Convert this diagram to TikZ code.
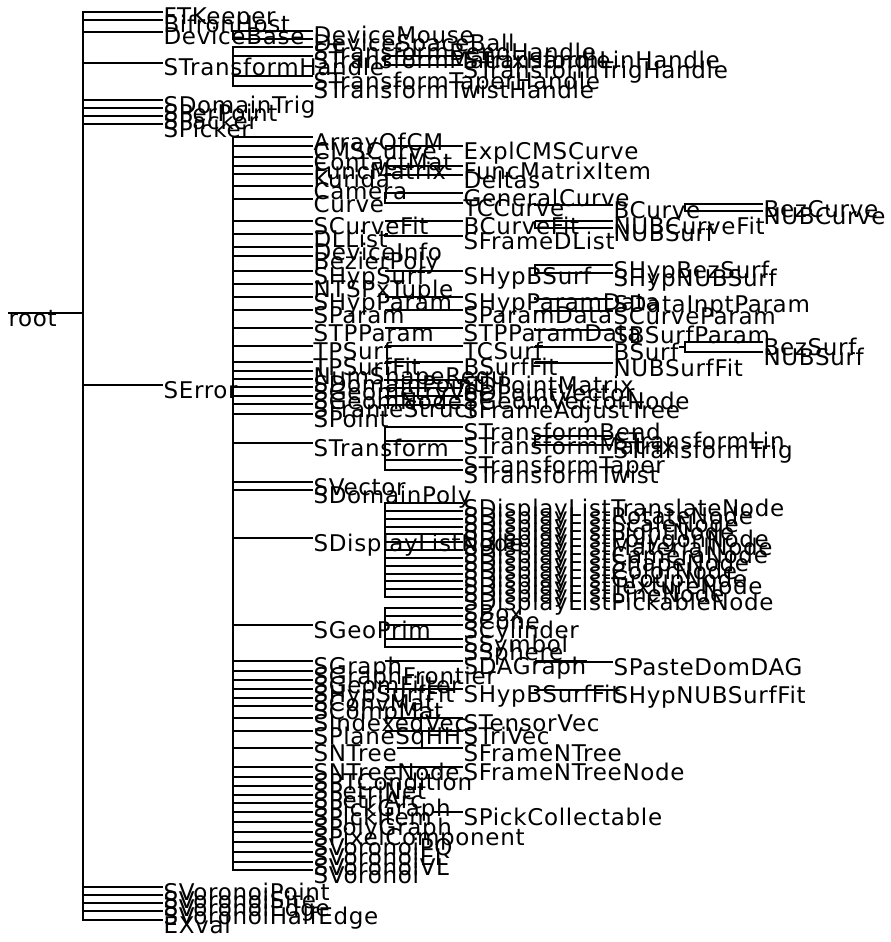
\documentclass[tikz,border=0pt]{standalone}
\usepackage{fontspec}
\newfontfamily\clsfont[LetterSpace=3]{DejaVu Sans}
\begin{document}
\begin{tikzpicture}[x=1pt, y=-1pt, line width=1.1pt,
  cls/.style={inner sep=0pt, anchor=west, text height=26pt, text depth=0pt,
              font=\clsfont\fontsize{23}{23}\selectfont}]
\useasboundingbox (0,0) rectangle (891,942);

    % root
    \node[cls] (root) at (8, 313) {root};
    \coordinate (rootbus) at (83, 313);
    \draw (root.west) -- (rootbus);

    % level 1
    \node[cls] (ftk) at (163, 12) {FTKeeper};
    \node[cls] (bhost) at (163, 20) {BifronHost};
    \node[cls] (devb) at (163, 32) {DeviceBase};
    \node[cls] (xhand) at (163, 63) {STransformHandle};
    \node[cls] (dtrig) at (163, 100) {SDomainTrig};
    \node[cls] (ppt) at (163, 108) {SPerPoint};
    \node[cls] (pck) at (163, 116) {SPacker};
    \node[cls] (pkr) at (163, 124) {SPicker};
    \node[cls] (err) at (163, 385) {SError};
    \node[cls] (vpt) at (163, 887) {SVoronoiPoint};
    \node[cls] (vsite) at (163, 895) {SVoronoiSite};
    \node[cls] (vedge) at (163, 903) {SVoronoiEdge};
    \node[cls] (vhalf) at (163, 911) {SVoronoiHalfEdge};
    \node[cls] (exval) at (163, 920) {EXval};
    \draw (ftk.west) -| (rootbus) (bhost.west) -| (rootbus) (devb.west) -| (rootbus)
          (xhand.west) -| (rootbus) (dtrig.west) -| (rootbus) (ppt.west) -| (rootbus)
          (pck.west) -| (rootbus) (pkr.west) -| (rootbus) (err.west) -| (rootbus)
          (vpt.west) -| (rootbus) (vsite.west) -| (rootbus) (vedge.west) -| (rootbus)
          (vhalf.west) -| (rootbus) (exval.west) -| (rootbus);

    % devices
    \coordinate (devbbus) at (233, 32);
    \node[cls] (dmouse) at (313, 31) {DeviceMouse};
    \node[cls] (dball) at (313, 39) {DeviceSpaceBall};
    \draw (dmouse.west) -| (devbbus) (dball.west) -| (devbbus);

    % handles
    \coordinate (xhandbus) at (233, 63);
    \node[cls] (hbend) at (313, 47) {STransformBendHandle};
    \node[cls] (hmat) at (313, 56) {STransformMatrixHandle};
    \node[cls] (htaper) at (313, 76) {STransformTaperHandle};
    \node[cls] (htwist) at (313, 86) {STransformTwistHandle};
    \draw (hbend.west) -| (xhandbus) (hmat.west) -| (xhandbus)
          (htaper.west) -| (xhandbus) (htwist.west) -| (xhandbus);
    \coordinate (hmatbus) at (385, 56);
    \node[cls] (hlin) at (463, 56) {STransformLinHandle};
    \node[cls] (htrig) at (463, 65) {STransformTrigHandle};
    \draw (hlin.west) -| (hmatbus) (htrig.west) -| (hmatbus);

    % SError, upper part
    \coordinate (errbus) at (233, 385);
    \node[cls] (aocm) at (313, 137) {ArrayOfCM};
    \node[cls] (cmsc) at (313, 146) {CMSCurve};
    \node[cls] (cmat) at (313, 157) {ContactMat};
    \node[cls] (fmat) at (313, 166) {FuncMatrix};
    \node[cls] (kur) at (313, 174) {Kurida};
    \node[cls] (cam) at (313, 186) {Camera};
    \node[cls] (curve) at (313, 199) {Curve};
    \node[cls] (cfit) at (313, 221) {SCurveFit};
    \node[cls] (dll) at (313, 234) {DLList};
    \node[cls] (dinfo) at (313, 247) {DeviceInfo};
    \node[cls] (bpoly) at (313, 256) {BezierPoly};
    \node[cls] (hsurf) at (313, 271) {SHypSurf};
    \node[cls] (tuple) at (313, 284) {NTSPxTuple};
    \node[cls] (hpar) at (313, 297) {SHypParam};
    \node[cls] (par) at (313, 310) {SParam};
    \node[cls] (tpp) at (313, 328) {STPParam};
    \node[cls] (tps) at (313, 346) {TPSurf};
    \node[cls] (tpsf) at (313, 362) {TPSurfFit};
    \node[cls] (nsr) at (313, 371) {NumShapeRequ};
    \node[cls] (dpt) at (313, 379) {SDomainPoint};
    \node[cls] (gvec) at (313, 387) {SGeometryVec};
    \node[cls] (gnode) at (313, 396) {SGeomNode};
    \node[cls] (fst) at (313, 404) {SFrameStruct};
    \node[cls] (spt) at (313, 414) {SPoint};
    \node[cls] (xf) at (313, 443) {STransform};
    \node[cls] (svec) at (313, 482) {SVector};
    \node[cls] (dpoly) at (313, 490) {SDomainPoly};
    \node[cls] (dln) at (313, 538) {SDisplayListNode};
    \node[cls] (gp) at (313, 625) {SGeoPrim};
    \draw (aocm.west) -| (errbus) (cmsc.west) -| (errbus) (cmat.west) -| (errbus)
          (fmat.west) -| (errbus) (kur.west) -| (errbus) (cam.west) -| (errbus)
          (curve.west) -| (errbus) (cfit.west) -| (errbus) (dll.west) -| (errbus)
          (dinfo.west) -| (errbus) (bpoly.west) -| (errbus) (hsurf.west) -| (errbus)
          (tuple.west) -| (errbus) (hpar.west) -| (errbus) (par.west) -| (errbus)
          (tpp.west) -| (errbus) (tps.west) -| (errbus) (tpsf.west) -| (errbus)
          (nsr.west) -| (errbus) (dpt.west) -| (errbus) (gvec.west) -| (errbus)
          (gnode.west) -| (errbus) (fst.west) -| (errbus) (spt.west) -| (errbus)
          (xf.west) -| (errbus) (svec.west) -| (errbus) (dpoly.west) -| (errbus)
          (dln.west) -| (errbus) (gp.west) -| (errbus);

    % curves
    \node[cls] (explcms) at (463, 146) {ExplCMSCurve};
    \node[cls] (fmitem) at (463, 166) {FuncMatrixItem};
    \node[cls] (deltas) at (463, 175) {Deltas};
    \draw (explcms.west) -- (cmsc.west -| 385, 0) (fmitem.west) -- (fmat.west -| 385, 0);
    \coordinate (kurbus) at (385, 174);
    \draw (deltas.west) -| (kurbus) (kur.east) -- (kurbus);
    \coordinate (curvebus) at (385, 199);
    \node[cls] (gcurve) at (463, 193) {GeneralCurve};
    \node[cls] (tcc) at (463, 203) {TCCurve};
    \draw (curve.east) -- (curvebus) (gcurve.west) -| (curvebus) (tcc.west) -| (curvebus);
    \coordinate (tccbus) at (535, 203);
    \node[cls] (bcur) at (613, 205) {BCurve};
    \draw (bcur.west) -| (tccbus);
    \coordinate (bcurbus) at (685, 205);
    \node[cls] (bezc) at (763, 204) {BezCurve};
    \node[cls] (nubc) at (763, 211) {NUBCurve};
    \draw (bezc.west) -| (bcurbus) (nubc.west) -| (bcurbus);
    \coordinate (cfitbus) at (385, 221);
    \node[cls] (bcfit) at (463, 221) {BCurveFit};
    \draw (bcfit.west) -| (cfitbus);
    \coordinate (bcfitbus) at (535, 221);
    \node[cls] (nubcfit) at (613, 221) {NUBCurveFit};
    \node[cls] (nubsf) at (613, 228) {NUBSurf};
    \draw (nubcfit.west) -| (bcfitbus) (nubsf.west) -| (bcfitbus);
    \coordinate (dllbus) at (385, 234);
    \node[cls] (sfdl) at (463, 236) {SFrameDList};
    \draw (dll.east) -- (dllbus) (sfdl.west) -| (dllbus);

    % surfaces and params
    \coordinate (hsurfbus) at (385, 271);
    \node[cls] (hbsurf) at (463, 271) {SHypBSurf};
    \draw (hbsurf.west) -| (hsurfbus);
    \coordinate (hbsurfbus) at (535, 271);
    \node[cls] (hbez) at (613, 265) {SHypBezSurf};
    \node[cls] (hnub) at (613, 273) {SHypNUBSurf};
    \draw (hbez.west) -| (hbsurfbus) (hnub.west) -| (hbsurfbus);
    \node[cls] (hpdat) at (463, 297) {SHypParamData};
    \node[cls] (dinpt) at (613, 299) {SDataInptParam};
    \draw (hpdat.west) -| (385, 297) (dinpt.west) -| (535, 297);
    \node[cls] (pdat) at (463, 310) {SParamData};
    \node[cls] (cpar) at (613, 311) {SCurveParam};
    \draw (par.east) -- (385, 310) (pdat.west) -| (385, 310) (cpar.west) -| (535, 310);
    \node[cls] (tpdat) at (463, 328) {STPParamData};
    \node[cls] (bspar) at (613, 330) {SBSurfParam};
    \draw (tpdat.west) -| (385, 328) (bspar.west) -| (535, 328);
    \coordinate (tpsbus) at (385, 346);
    \node[cls] (tcs) at (463, 346) {TCSurf};
    \draw (tps.east) -- (tpsbus) (tcs.west) -| (tpsbus);
    \coordinate (tcsbus) at (535, 346);
    \node[cls] (bs) at (613, 347) {BSurf};
    \draw (tcs.east) -- (tcsbus) (bs.west) -| (tcsbus);
    \coordinate (bsbus) at (685, 347);
    \node[cls] (bezs) at (763, 342) {BezSurf};
    \node[cls] (nubs) at (763, 352) {NUBSurf};
    \draw (bs.east) -- (bsbus) (bezs.west) -| (bsbus) (nubs.west) -| (bsbus);
    \coordinate (tpsfbus) at (385, 362);
    \node[cls] (bsf) at (463, 362) {BSurfFit};
    \draw (bsf.west) -| (tpsfbus);
    \coordinate (bsfbus) at (535, 362);
    \node[cls] (nubsfit) at (613, 363) {NUBSurfFit};
    \draw (bsf.east) -- (bsfbus) (nubsfit.west) -| (bsfbus);

    % points and frames
    \node[cls] (dpm) at (463, 380) {SDPointMatrix};
    \node[cls] (dpv) at (463, 388) {SDPointVector};
    \node[cls] (gvn) at (463, 396) {SGeomVectorNode};
    \node[cls] (fadj) at (463, 405) {SFrameAdjustTree};
    \draw (dpm.west) -| (385, 379) (dpv.west) -| (385, 387)
          (gvn.west) -| (385, 396) (fadj.west) -| (385, 404);

    % transforms
    \coordinate (xfbus) at (385, 443);
    \node[cls] (xbend) at (463, 427) {STransformBend};
    \node[cls] (xmat) at (463, 441) {STransformMatrix};
    \node[cls] (xtaper) at (463, 460) {STransformTaper};
    \node[cls] (xtwist) at (463, 470) {STransformTwist};
    \draw (xbend.west) -| (xfbus) (xmat.west) -| (xfbus)
          (xtaper.west) -| (xfbus) (xtwist.west) -| (xfbus);
    \coordinate (xmatbus) at (535, 441);
    \node[cls] (xlin) at (613, 436) {STransformLin};
    \node[cls] (xtrig) at (613, 445) {STransformTrig};
    \draw (xlin.west) -| (xmatbus) (xtrig.west) -| (xmatbus);

    % display list
    \coordinate (dlnbus) at (385, 538);
    \node[cls] (dl1) at (463, 503) {SDisplayListTranslateNode};
    \node[cls] (dl2) at (463, 511) {SDisplayListRotateNode};
    \node[cls] (dl3) at (463, 519) {SDisplayListScaleNode};
    \node[cls] (dl4) at (463, 527) {SDisplayListLightNode};
    \node[cls] (dl5) at (463, 534) {SDisplayListPolygonNode};
    \node[cls] (dl6) at (463, 542) {SDisplayListMaterialNode};
    \node[cls] (dl7) at (463, 550) {SDisplayListCameraNode};
    \node[cls] (dl8) at (463, 558) {SDisplayListShapeNode};
    \node[cls] (dl9) at (463, 566) {SDisplayListColorNode};
    \node[cls] (dl10) at (463, 574) {SDisplayListGroupNode};
    \node[cls] (dl11) at (463, 581) {SDisplayListTextureNode};
    \node[cls] (dl12) at (463, 589) {SDisplayListLineNode};
    \node[cls] (dl13) at (463, 597) {SDisplayListPickableNode};
    \draw (dl1.west) -| (dlnbus) (dl2.west) -| (dlnbus) (dl3.west) -| (dlnbus)
          (dl4.west) -| (dlnbus) (dl5.west) -| (dlnbus) (dl6.west) -| (dlnbus)
          (dl7.west) -| (dlnbus) (dl8.west) -| (dlnbus) (dl9.west) -| (dlnbus)
          (dl10.west) -| (dlnbus) (dl11.west) -| (dlnbus) (dl12.west) -| (dlnbus)
          (dl13.west) -| (dlnbus);

    % primitives
    \coordinate (gpbus) at (385, 625);
    \node[cls] (sbox) at (463, 608) {SBox};
    \node[cls] (scone) at (463, 616) {SCone};
    \node[cls] (scyl) at (463, 625) {SCylinder};
    \node[cls] (ssym) at (463, 639) {SSymbol};
    \node[cls] (ssph) at (463, 647) {SSphere};
    \draw (sbox.west) -| (gpbus) (scone.west) -| (gpbus) (scyl.west) -| (gpbus)
          (ssym.west) -| (gpbus) (ssph.west) -| (gpbus);

    % SError, lower part
    \node[cls] (gr) at (313, 661) {SGraph};
    \node[cls] (gfr) at (313, 671) {SGraphFrontier};
    \node[cls] (gfil) at (313, 680) {SGeomFilter};
    \node[cls] (hsf) at (313, 689) {SHypSurfFit};
    \node[cls] (cvm) at (313, 698) {SConvMat};
    \node[cls] (cpm) at (313, 706) {SCompMat};
    \node[cls] (ivec) at (313, 718) {SIndexedVec};
    \node[cls] (psq) at (313, 731) {SPlaneSqHH};
    \node[cls] (ntr) at (313, 748) {SNTree};
    \node[cls] (ntn) at (313, 767) {SNTreeNode};
    \node[cls] (ptc) at (313, 777) {SPTCondition};
    \node[cls] (pnet) at (313, 786) {SPetriNet};
    \node[cls] (parc) at (313, 795) {SPetriArc};
    \node[cls] (pgr) at (313, 803) {SPickGraph};
    \node[cls] (pit) at (313, 812) {SPickItem};
    \node[cls] (plg) at (313, 822) {SPolyGraph};
    \node[cls] (pxc) at (313, 832) {SPixelComponent};
    \node[cls] (vpq) at (313, 842) {SVoronoiPQ};
    \node[cls] (vel) at (313, 852) {SVoronoiEL};
    \node[cls] (vvl) at (313, 862) {SVoronoiVL};
    \node[cls] (vor) at (313, 870) {SVoronoi};
    \draw (gr.west) -| (errbus) (gfr.west) -| (errbus) (gfil.west) -| (errbus)
          (hsf.west) -| (errbus) (cvm.west) -| (errbus) (cpm.west) -| (errbus)
          (ivec.west) -| (errbus) (psq.west) -| (errbus) (ntr.west) -| (errbus)
          (ntn.west) -| (errbus) (ptc.west) -| (errbus) (pnet.west) -| (errbus)
          (parc.west) -| (errbus) (pgr.west) -| (errbus) (pit.west) -| (errbus)
          (plg.west) -| (errbus) (pxc.west) -| (errbus) (vpq.west) -| (errbus)
          (vel.west) -| (errbus) (vvl.west) -| (errbus) (vor.west) -| (errbus);

    % graphs, fits, vectors, trees
    \node[cls] (dag) at (463, 661) {SDAGraph};
    \node[cls] (paste) at (613, 662) {SPasteDomDAG};
    \draw (dag.west) -| (385, 661) (paste.west) -| (535, 661) (dag.east) -- (535, 661);
    \node[cls] (hbsf) at (463, 689) {SHypBSurfFit};
    \node[cls] (hnsf) at (613, 690) {SHypNUBSurfFit};
    \draw (hbsf.west) -| (385, 689) (hnsf.west) -| (535, 689);
    \node[cls] (tvec) at (463, 718) {STensorVec};
    \node[cls] (trv) at (463, 731) {STriVec};
    \node[cls] (fnt) at (463, 748) {SFrameNTree};
    \node[cls] (fntn) at (463, 767) {SFrameNTreeNode};
    \node[cls] (pcol) at (463, 812) {SPickCollectable};
    \draw (tvec.west) -- (ivec.west -| 385, 0) (trv.west) -- (psq.west -| 385, 0)
          (fnt.west) -- (ntr.east) (fntn.west) -- (ntn.west -| 385, 0)
          (pcol.west) -- (pit.east);

\end{tikzpicture}
\end{document}
